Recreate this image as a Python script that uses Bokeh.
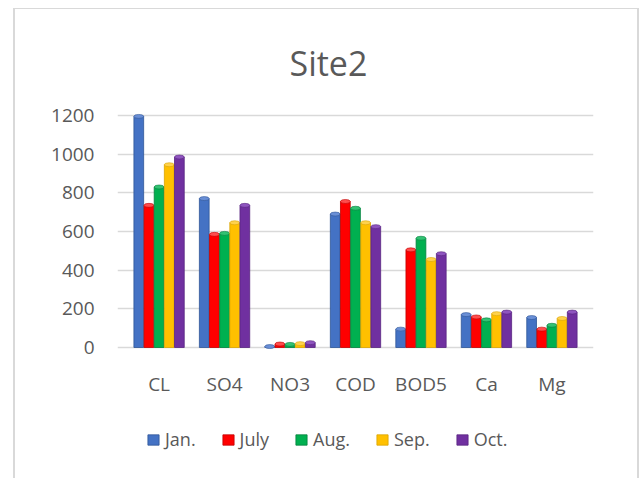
from bokeh.plotting import figure
from bokeh.models import (ColumnDataSource, FactorRange, Legend, LegendItem,
                          Range1d, FixedTicker)
from bokeh.core.properties import value
from bokeh.transform import dodge
from bokeh.embed import file_html
from bokeh.resources import INLINE

categories = ["CL", "SO4", "NO3", "COD", "BOD5", "Ca", "Mg"]
months = ["Jan.", "July", "Aug.", "Sep.", "Oct."]
jan = [1195, 770, 5, 690, 95, 170, 155]
july = [735, 585, 18, 755, 505, 158, 95]
aug = [830, 590, 16, 720, 565, 143, 115]
sep = [945, 645, 20, 645, 455, 175, 150]
octo = [985, 735, 25, 625, 485, 183, 183]
y_ticks = [0, 200, 400, 600, 800, 1000, 1200]

colors = ["#4472C4", "#FF0000", "#00B050", "#FFC000", "#7030A0"]
edge_colors = ["#2F5597", "#C00000", "#00803C", "#D9A300", "#582580"]
cap_colors = ["#6A8FD6", "#FF4D4D", "#33C273", "#FFD24D", "#8F55BF"]

series = [jan, july, aug, sep, octo]
keys = ["jan", "july", "aug", "sep", "oct"]
data = {"cats": categories}
for k, s in zip(keys, series):
    data[k] = s
source = ColumnDataSource(data)

font = "Open Sans"
txt = "#595959"

# layout: value axis occupies 234 px for 0..1210; the frame extends below
# the zero line to hold category labels and the legend
y_end = 1210
plot_px = 234
frame_h = 358
px_per_unit = plot_px / y_end
y_start = y_end - frame_h / px_per_unit
label_y = -36 / px_per_unit

p = figure(
    x_range=FactorRange(factors=categories, range_padding=0.135,
                        range_padding_units="absolute"),
    y_range=Range1d(y_start, y_end),
    frame_width=476, frame_height=frame_h,
    min_border_left=102, min_border_right=44,
    min_border_top=103, min_border_bottom=7,
    output_backend="svg", toolbar_location=None,
    x_axis_location=None,
    title="Site2",
)
p.styles = {"margin-left": "13px", "margin-top": "8px",
            "border-left": "2px solid #d9d9d9",
            "border-right": "2px solid #d9d9d9",
            "border-top": "1px solid #d9d9d9"}
p.outline_line_color = None
p.background_fill_color = "white"
p.border_fill_color = "white"

p.title.align = "left"
p.title.offset = 172
p.title.standoff = 56
p.title.text_font = font
p.title.text_font_size = "34px"
p.title.text_font_style = "normal"
p.title.text_color = txt

bw = 0.155
offsets = [-2 * bw, -bw, 0, bw, 2 * bw]
renderers = []
for k, off, c, ec, cc in zip(keys, offsets, colors, edge_colors, cap_colors):
    xx = dodge("cats", off, range=p.x_range)
    r = p.vbar(x=xx, top=k, width=bw * 0.96, source=source,
               fill_color=c, line_color=ec, line_width=0.8)
    p.ellipse(x=xx, y=k, width=bw * 0.96, height=4, height_units="screen",
              source=source, fill_color=cc, line_color=ec, line_width=0.6)
    renderers.append(r)

# category labels
p.text(x="cats", y=label_y, text="cats", source=source,
       text_font=value(font), text_font_size="19px", text_color=txt,
       text_align="center", text_baseline="middle")

p.yaxis.ticker = FixedTicker(ticks=y_ticks)
ax = p.yaxis[0]
ax.axis_line_color = None
ax.major_tick_line_color = None
ax.minor_tick_line_color = None
ax.major_label_text_font = font
ax.major_label_text_color = txt
ax.major_label_text_font_size = "19px"
ax.major_label_standoff = 17

p.xgrid.grid_line_color = None
p.ygrid.grid_line_color = "#d9d9d9"
p.ygrid.grid_line_width = 1.6
p.ygrid.ticker = FixedTicker(ticks=y_ticks)

items = [LegendItem(label=m, renderers=[r]) for m, r in zip(months, renderers)]
legend = Legend(items=items, orientation="horizontal", location=(29, 20),
                glyph_width=14, glyph_height=13, label_height=13,
                label_standoff=5, spacing=25, padding=0, margin=0,
                border_line_color=None, background_fill_alpha=0,
                label_text_font=font, label_text_font_size="18px",
                label_text_color=txt)
p.add_layout(legend, "center")

open("out.html", "w").write(file_html(p, INLINE))
